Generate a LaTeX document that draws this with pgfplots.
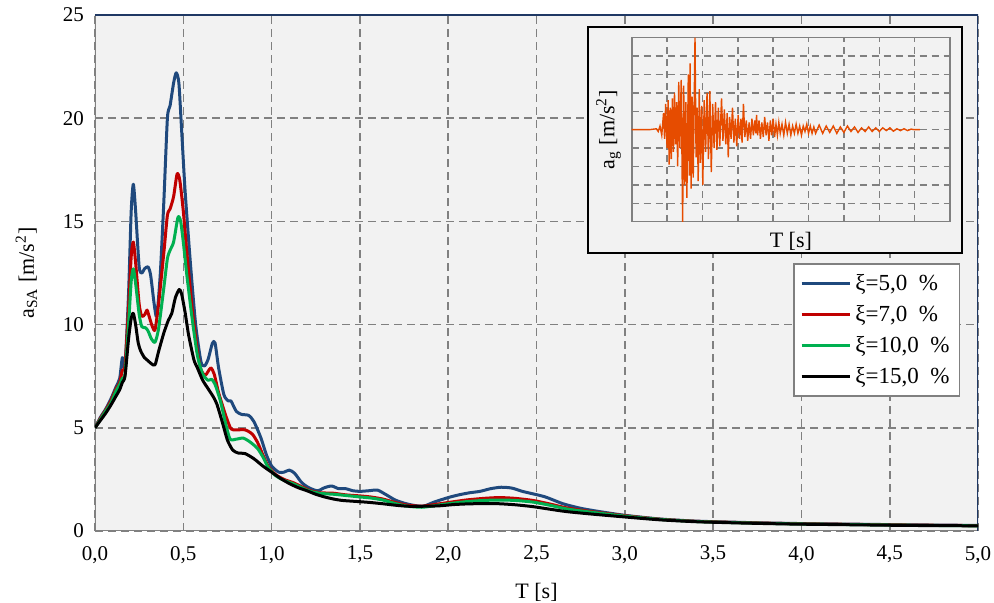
\documentclass[border=0pt]{standalone}
\usepackage{pgfplots}
\pgfplotsset{compat=1.18}
\usepackage{fontspec}
\setmainfont{Liberation Serif}

\definecolor{c5}{RGB}{31,73,125}
\definecolor{c7}{RGB}{192,0,0}
\definecolor{c10}{RGB}{0,176,80}
\definecolor{c15}{RGB}{0,0,0}
\definecolor{bggray}{RGB}{242,242,242}
\definecolor{gridgray}{RGB}{128,128,128}
\definecolor{navy}{RGB}{31,56,100}
\definecolor{quake}{RGB}{230,76,0}

\begin{document}
\begin{tikzpicture}
  % page = 994 x 603 px at 0.5pt per px, axis box from (95,15) to (978,531)
  \useasboundingbox (-47.5pt,-36pt) rectangle (449.5pt,265.5pt);
  \begin{axis}[
      at={(0,0)}, anchor=south west,
      scale only axis,
      width=441.5pt, height=258pt,
      xmin=0, xmax=5, ymin=0, ymax=25,
      xtick={0,0.5,...,5}, ytick={0,5,...,25},
      xticklabels={{0,0},{0,5},{1,0},{1,5},{2,0},{2,5},{3,0},{3,5},{4,0},{4,5},{5,0}},
      /pgf/number format/assume math mode=true,
      tick style={draw=none},
      tick label style={font=\fontsize{10.5}{12}\selectfont},
      xticklabel style={yshift=-4pt},
      yticklabel style={xshift=-2pt},
      grid=major,
      major grid style={gridgray, dash pattern=on 4pt off 2.5pt, line width=0.8pt},
      axis background/.style={fill=bggray},
      axis line style={draw=none},
      xlabel={T [s]}, ylabel={a\textsubscript{SA} [m/s\textsuperscript{2}]},
      label style={font=\fontsize{11}{13}\selectfont},
      xlabel style={yshift=-3pt},
      ylabel style={yshift=6pt},
      legend style={at={(0.98,0.519)}, anchor=north east, draw=gridgray, fill=white,
        line width=0.8pt, font=\fontsize{11.5}{13}\selectfont, row sep=2pt,
        inner xsep=3pt, inner ysep=3pt},
      legend cell align=left,
      legend image code/.code={\draw[#1] (0cm,0cm) -- (0.85cm,0cm);},
      every axis plot/.append style={line width=1.5pt, line join=round},
    ]
    \draw[gridgray, line width=1.1pt] (rel axis cs:0,1) -- (rel axis cs:0,0) -- (rel axis cs:1,0);
    \draw[navy, line width=0.7pt] (rel axis cs:0,1) -- (rel axis cs:1,1) -- (rel axis cs:1,0);

    \addplot[c5, smooth, tension=0.4] coordinates {
      (0.0,5.0) (0.03,5.5) (0.06,5.9) (0.09,6.4) (0.12,7.0) (0.14,7.4) (0.155,8.4) (0.17,8.0)
      (0.19,11.5) (0.205,15.5) (0.217,16.8) (0.23,15.5) (0.25,12.8) (0.265,12.5) (0.28,12.7)
      (0.30,12.8) (0.315,12.4) (0.335,11.0) (0.35,10.4) (0.37,12.5) (0.39,16.0) (0.41,20.0)
      (0.425,20.6) (0.445,21.7) (0.46,22.2) (0.475,21.7) (0.49,19.5) (0.51,16.5) (0.54,13.0)
      (0.57,10.0) (0.60,8.2) (0.62,8.0) (0.64,8.3) (0.665,9.1) (0.68,9.1) (0.70,7.9) (0.73,6.6)
      (0.755,6.3) (0.77,6.3) (0.80,5.8) (0.83,5.65) (0.87,5.6) (0.90,5.3) (0.94,4.5) (0.97,3.7)
      (1.00,3.15) (1.04,2.85) (1.07,2.85) (1.10,2.95) (1.13,2.8) (1.17,2.35) (1.21,2.1)
      (1.26,1.95) (1.30,2.1) (1.34,2.18) (1.38,2.05) (1.42,2.05) (1.46,1.95) (1.50,1.92)
      (1.55,1.95) (1.60,1.98) (1.65,1.75) (1.70,1.5) (1.75,1.35) (1.80,1.25) (1.86,1.2)
      (1.92,1.4) (2.00,1.62) (2.06,1.75) (2.12,1.85) (2.18,1.92) (2.24,2.05) (2.30,2.12)
      (2.36,2.08) (2.42,1.92) (2.48,1.8) (2.55,1.65) (2.65,1.32) (2.75,1.1) (2.85,0.95)
      (3.0,0.76) (3.2,0.58) (3.4,0.48) (3.6,0.43) (3.8,0.39) (4.0,0.36) (4.3,0.33) (4.6,0.30) (5.0,0.27)
    };
    \addlegendentry{ξ=5,0~~\%}
    \addplot[c7, smooth, tension=0.4] coordinates {
      (0.0,5.0) (0.03,5.45) (0.06,5.85) (0.09,6.3) (0.12,6.9) (0.14,7.2) (0.155,7.8) (0.17,8.0)
      (0.19,10.8) (0.205,13.3) (0.217,14.0) (0.23,13.0) (0.25,11.0) (0.265,10.4) (0.283,10.5)
      (0.295,10.7) (0.31,10.3) (0.325,9.9) (0.34,9.75) (0.36,11.0) (0.39,13.5) (0.41,15.3)
      (0.425,15.6) (0.445,16.2) (0.465,17.3) (0.48,17.0) (0.50,15.5) (0.52,13.5) (0.55,10.8)
      (0.58,8.7) (0.60,7.8) (0.625,7.55) (0.655,7.9) (0.675,7.6) (0.70,6.7) (0.74,5.6)
      (0.77,4.95) (0.80,4.9) (0.85,4.9) (0.89,4.7) (0.92,4.3) (0.95,3.7) (0.98,3.15)
      (1.02,2.75) (1.07,2.5) (1.12,2.35) (1.17,2.15) (1.22,1.95) (1.28,1.85) (1.35,1.83)
      (1.42,1.75) (1.50,1.7) (1.56,1.65) (1.63,1.55) (1.70,1.38) (1.77,1.25) (1.85,1.2)
      (1.92,1.28) (2.00,1.38) (2.10,1.5) (2.20,1.58) (2.29,1.62) (2.38,1.58) (2.48,1.48)
      (2.58,1.3) (2.67,1.12) (2.8,0.95) (3.0,0.74) (3.2,0.57) (3.4,0.47) (3.6,0.42)
      (3.8,0.38) (4.0,0.35) (4.3,0.32) (4.6,0.29) (5.0,0.26)
    };
    \addlegendentry{ξ=7,0~~\%}
    \addplot[c10, smooth, tension=0.4] coordinates {
      (0.0,5.0) (0.03,5.4) (0.06,5.8) (0.09,6.2) (0.12,6.8) (0.14,7.1) (0.155,7.4) (0.17,7.6)
      (0.19,10.0) (0.205,12.1) (0.217,12.7) (0.23,12.0) (0.25,10.5) (0.265,9.9) (0.285,9.85)
      (0.30,9.7) (0.32,9.3) (0.34,9.15) (0.36,9.8) (0.39,11.8) (0.41,13.2) (0.425,13.6)
      (0.445,14.0) (0.47,15.2) (0.485,15.0) (0.50,14.0) (0.52,12.4) (0.55,10.3) (0.58,8.5)
      (0.61,7.6) (0.64,7.3) (0.66,7.35) (0.68,7.1) (0.71,6.3) (0.74,5.2) (0.765,4.45)
      (0.80,4.45) (0.84,4.5) (0.88,4.3) (0.92,4.0) (0.95,3.6) (0.98,3.1) (1.02,2.7)
      (1.07,2.45) (1.12,2.3) (1.17,2.1) (1.22,1.92) (1.28,1.82) (1.35,1.78) (1.42,1.72)
      (1.50,1.65) (1.56,1.6) (1.63,1.5) (1.70,1.33) (1.77,1.2) (1.85,1.15) (1.92,1.22)
      (2.00,1.32) (2.10,1.42) (2.20,1.48) (2.29,1.5) (2.38,1.48) (2.48,1.4) (2.58,1.24)
      (2.67,1.07) (2.8,0.92) (3.0,0.72) (3.2,0.56) (3.4,0.46) (3.6,0.41) (3.8,0.37)
      (4.0,0.34) (4.3,0.31) (4.6,0.28) (5.0,0.25)
    };
    \addlegendentry{ξ=10,0~~\%}
    \addplot[c15, smooth, tension=0.4] coordinates {
      (0.0,5.0) (0.03,5.35) (0.06,5.7) (0.09,6.1) (0.12,6.55) (0.14,6.85) (0.155,7.2) (0.17,7.5)
      (0.19,9.3) (0.205,10.3) (0.217,10.55) (0.23,10.0) (0.245,9.1) (0.26,8.7) (0.28,8.4)
      (0.30,8.25) (0.32,8.1) (0.34,8.05) (0.36,8.7) (0.39,9.6) (0.415,10.2) (0.435,10.55)
      (0.455,11.3) (0.477,11.7) (0.49,11.5) (0.51,10.6) (0.53,9.5) (0.56,8.3) (0.58,7.9)
      (0.61,7.3) (0.64,6.9) (0.67,6.5) (0.69,6.15) (0.72,5.3) (0.75,4.4) (0.78,3.92)
      (0.81,3.78) (0.85,3.75) (0.90,3.5) (0.95,3.15) (1.00,2.85) (1.05,2.55) (1.10,2.3)
      (1.15,2.1) (1.20,1.95) (1.25,1.78) (1.30,1.65) (1.35,1.55) (1.40,1.48) (1.50,1.42)
      (1.56,1.38) (1.63,1.32) (1.70,1.25) (1.77,1.2) (1.87,1.2) (1.95,1.22) (2.03,1.28)
      (2.10,1.31) (2.20,1.33) (2.29,1.32) (2.38,1.27) (2.48,1.18) (2.58,1.05) (2.67,0.94)
      (2.8,0.83) (3.0,0.68) (3.2,0.54) (3.4,0.45) (3.6,0.40) (3.8,0.36) (4.0,0.33)
      (4.3,0.30) (4.6,0.27) (5.0,0.25)
    };
    \addlegendentry{ξ=15,0~~\%}
  \end{axis}

  % inset frame
  \draw[black, line width=0.9pt, fill=bggray] (246.5pt,139pt) rectangle (433.5pt,252pt);
  \begin{axis}[
      at={(268.35pt,154.65pt)}, anchor=south west,
      scale only axis,
      width=159.15pt, height=92pt,
      xmin=0, xmax=9, ymin=-5, ymax=5,
      xtick={0,...,9}, ytick={-5,...,5},
      xticklabels={}, yticklabels={},
      tick style={draw=none},
      grid=major,
      major grid style={gridgray, dash pattern=on 3.5pt off 2.5pt, line width=0.7pt},
      axis line style={gridgray, line width=0.8pt},
      axis background/.style={fill=bggray},
      xlabel={T [s]}, ylabel={a\textsubscript{g} [m/s\textsuperscript{2}]},
      label style={font=\fontsize{11}{13}\selectfont},
      xlabel style={yshift=5pt},
      ylabel style={yshift=-5pt},
    ]
    \addplot[quake, line width=0.7pt] coordinates {
      (0,0) (0.5,0) (0.7,0.05) (0.75,-0.1) (0.8,0.2) (0.85,-0.3) (0.9,0.9) (0.93,-0.5)
      (0.96,1.4) (1.0,-1.0) (1.03,1.6) (1.06,-1.9) (1.09,1.2) (1.12,-1.6) (1.15,1.7)
      (1.18,-1.2) (1.21,2.0) (1.24,-0.8) (1.27,1.5) (1.30,-2.0) (1.33,2.6) (1.36,-1.0)
      (1.40,2.7) (1.44,-5.1) (1.47,2.4) (1.50,-3.0) (1.53,1.5) (1.56,-3.7) (1.60,3.0)
      (1.63,-2.5) (1.65,3.6) (1.68,-3.2) (1.71,1.8) (1.74,-2.6) (1.79,5.0) (1.82,-1.5)
      (1.85,1.2) (1.88,-2.8) (1.91,2.2) (1.94,-1.8) (1.98,1.3) (2.01,-3.0) (2.05,1.6)
      (2.09,-1.2) (2.13,2.0) (2.17,-1.6) (2.21,2.1) (2.25,-2.3) (2.29,1.4) (2.33,-1.0)
      (2.37,1.5) (2.41,-1.1) (2.45,1.2) (2.49,-0.9) (2.54,1.7) (2.58,-0.6) (2.62,1.1)
      (2.66,-0.8) (2.70,0.9) (2.73,-1.5) (2.77,0.7) (2.81,-0.5) (2.85,1.2) (2.89,-0.7)
      (2.93,0.6) (2.97,-0.9) (3.01,0.8) (3.05,-0.5) (3.09,0.6) (3.12,-0.7) (3.16,1.4)
      (3.20,-0.4) (3.24,0.5) (3.28,-0.6) (3.32,0.4) (3.36,-0.5) (3.40,0.6) (3.44,-0.3)
      (3.48,0.5) (3.51,-0.2) (3.53,0.8) (3.56,-0.3) (3.60,0.5) (3.64,-0.5) (3.68,0.4)
      (3.72,-0.4) (3.76,0.7) (3.80,-0.3) (3.84,0.4) (3.88,-0.6) (3.92,0.5) (3.96,-0.3)
      (4.00,0.6) (4.04,-0.4) (4.08,0.3) (4.12,-0.3) (4.16,0.4) (4.20,-0.2) (4.25,0.3)
      (4.30,-0.3) (4.35,0.4) (4.40,-0.2) (4.45,0.3) (4.50,-0.3) (4.55,0.2) (4.60,-0.2)
      (4.65,0.3) (4.70,-0.2) (4.75,0.2) (4.80,-0.3) (4.85,0.2) (4.90,-0.1) (4.95,0.3)
      (5.0,-0.2) (5.05,0.2) (5.1,-0.2) (5.15,0.15) (5.2,-0.2) (5.3,0.25) (5.4,-0.2)
      (5.5,0.2) (5.6,-0.15) (5.7,0.2) (5.8,-0.2) (5.9,0.15) (6.0,-0.15) (6.1,0.2)
      (6.2,-0.1) (6.3,0.15) (6.4,-0.15) (6.5,0.1) (6.6,-0.1) (6.7,0.15) (6.8,-0.1)
      (6.9,0.1) (7.0,-0.1) (7.1,0.1) (7.2,-0.05) (7.3,0.1) (7.4,-0.08) (7.5,0.05)
      (7.6,-0.05) (7.7,0.05) (7.8,-0.05) (7.9,0.03) (8.0,0) (8.15,0)
    };
  \end{axis}
\end{tikzpicture}
\end{document}
